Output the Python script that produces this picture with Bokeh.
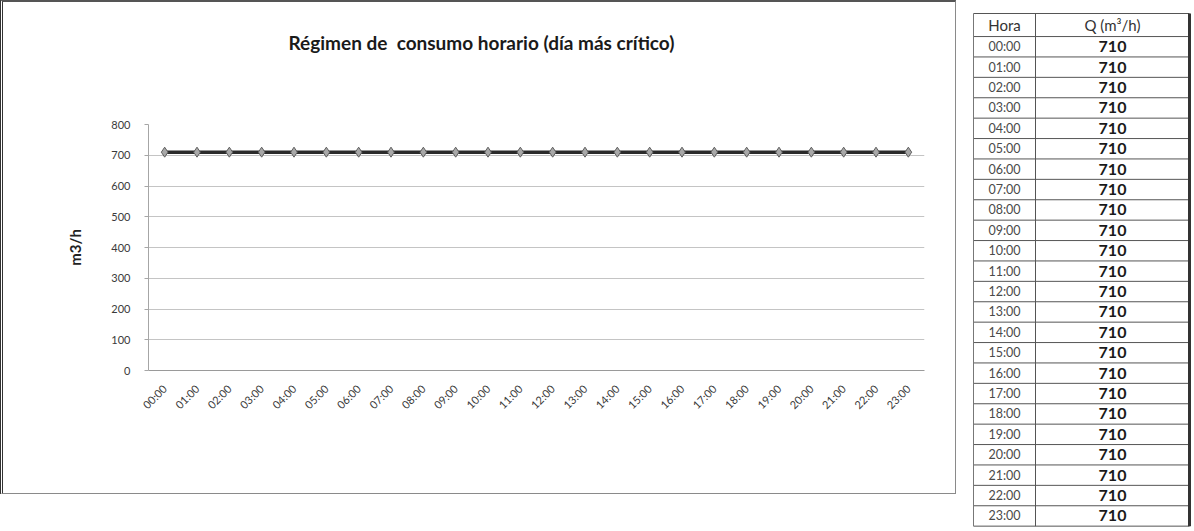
import math
from bokeh.plotting import figure
from bokeh.models import Range1d, FactorRange, FixedTicker, Title
from bokeh.layouts import row
from bokeh.embed import file_html
from bokeh.resources import INLINE
from bokeh.core.properties import value

hours = ["00:00", "01:00", "02:00", "03:00", "04:00", "05:00", "06:00", "07:00",
         "08:00", "09:00", "10:00", "11:00", "12:00", "13:00", "14:00", "15:00",
         "16:00", "17:00", "18:00", "19:00", "20:00", "21:00", "22:00", "23:00"]
q_values = [710, 710, 710, 710, 710, 710, 710, 710, 710, 710, 710, 710,
            710, 710, 710, 710, 710, 710, 710, 710, 710, 710, 710, 710]
y_ticks = [0, 100, 200, 300, 400, 500, 600, 700, 800]
title_text = "Régimen de\u00a0 consumo horario (día más crítico)"
table_headers = ["Hora", "Q (m³/h)"]

FONT = "Lato"

p = figure(width=956, height=494,
           x_range=FactorRange(factors=hours, range_padding=0),
           y_range=Range1d(0, 800),
           output_backend="svg", toolbar_location=None,
           min_border_left=145, min_border_right=35,
           min_border_top=122, min_border_bottom=126)
p.frame_align = False
p.styles = {"border": "1px solid #8a8a8a", "border-left": "3px double #333",
            "border-top": "2px solid #555", "box-sizing": "border-box"}

p.line(hours, q_values, line_color="#2b2b2b", line_width=3.5)
p.scatter(hours, q_values, marker="diamond", size=10,
          fill_color="#a8a8a8", line_color="#5e5e5e", line_width=1)

p.xgrid.grid_line_color = None
p.ygrid.ticker = FixedTicker(ticks=y_ticks)
p.ygrid.grid_line_color = "#c4c4c4"
p.outline_line_color = None

p.yaxis.ticker = FixedTicker(ticks=y_ticks)
p.yaxis.axis_line_color = "#a6a6a6"
p.yaxis.major_tick_line_color = "#a6a6a6"
p.yaxis.major_tick_out = 4
p.yaxis.major_tick_in = 0
p.yaxis.minor_tick_line_color = None
p.yaxis.major_label_text_font = FONT
p.yaxis.major_label_text_font_size = "11px"
p.yaxis.major_label_text_color = "#3a3a3a"
p.yaxis.major_label_standoff = 14
p.yaxis.axis_label = "m3/h"
p.yaxis.axis_label_text_font = FONT
p.yaxis.axis_label_text_font_size = "15px"
p.yaxis.axis_label_text_font_style = "bold"
p.yaxis.axis_label_text_color = "#222222"
p.yaxis.axis_label_standoff = 24

p.xaxis.axis_line_color = "#9a9a9a"
p.xaxis.major_tick_line_color = None
p.xaxis.minor_tick_line_color = None
p.xaxis.major_label_orientation = math.pi / 4
p.xaxis.major_label_text_font = FONT
p.xaxis.major_label_text_font_size = "11px"
p.xaxis.major_label_text_color = "#3a3a3a"
p.xaxis.major_label_standoff = 10

# spacer panel between frame and title, then the title itself
p.add_layout(Title(text="\u00a0", text_font_size="1px", standoff=68), "above")
p.add_layout(Title(text=title_text, align="left", offset=140, standoff=0,
                   text_font=FONT, text_font_size="19px", text_font_style="bold",
                   text_color="#1a1a1a"), "above")

# ---- table ----
n_rows = len(hours)
header_h = 1.13
row_px = 20.4
t = figure(width=236, height=531, x_range=Range1d(0, 236),
           y_range=Range1d(531 / row_px - 13 / row_px, -13 / row_px),
           output_backend="svg", toolbar_location=None,
           x_axis_location=None, y_axis_location=None,
           min_border=0)
t.frame_align = False
t.grid.grid_line_color = None
t.outline_line_color = None

col_edges = [17, 79, 233]
col_centers = [(col_edges[0] + col_edges[1]) / 2, (col_edges[1] + col_edges[2]) / 2]
row_edges = [0] + [header_h + i for i in range(n_rows + 1)]
bottom = row_edges[-1]
t.segment(x0=[col_edges[0]] * len(row_edges), x1=[col_edges[-1]] * len(row_edges),
          y0=row_edges, y1=row_edges, line_color="#555555", line_width=1)
t.segment(x0=col_edges, x1=col_edges, y0=[0] * 3, y1=[bottom] * 3,
          line_color=["#777777", "#555555", "#333333"], line_width=[1, 1, 3])

t.text(x=col_centers, y=[header_h / 2, header_h / 2], text=table_headers,
       text_font=value(FONT), text_font_size="15px", text_color="#333333",
       text_align="center", text_baseline="middle")
row_y = [header_h + i + 0.5 for i in range(n_rows)]
t.text(x=[col_centers[0]] * n_rows, y=row_y, text=hours,
       text_font=value(FONT), text_font_size="12.5px", text_color="#4a4a4a",
       text_align="center", text_baseline="middle")
t.text(x=[col_centers[1]] * n_rows, y=row_y, text=[str(v) for v in q_values],
       text_font=value(FONT), text_font_size="16px", text_font_style="bold",
       text_color="#1a1a1a", text_align="center", text_baseline="middle")

layout = row(p, t)
open("out.html", "w").write(file_html(layout, INLINE))
